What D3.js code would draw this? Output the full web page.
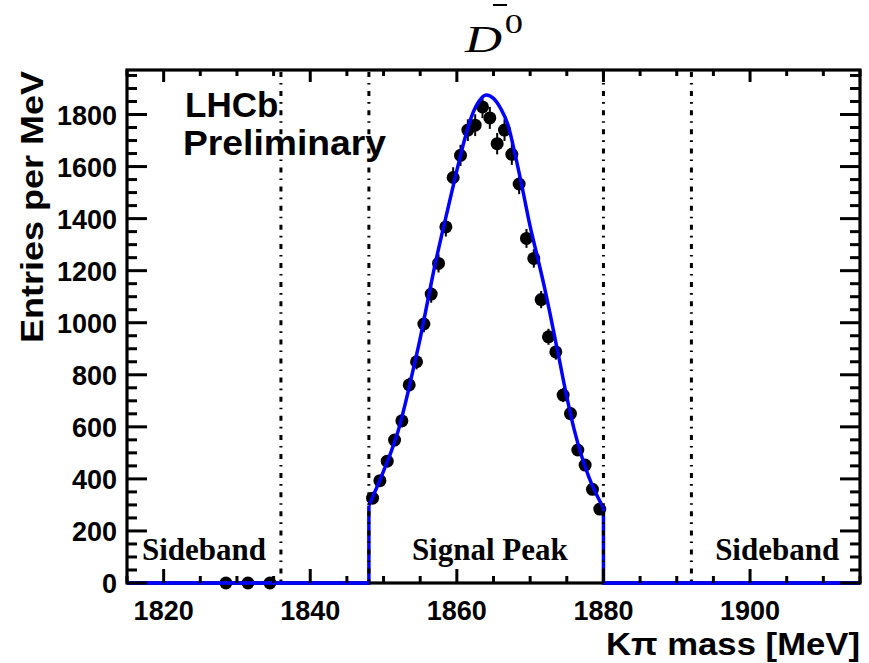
<!DOCTYPE html>
<html>
<head>
<meta charset="utf-8">
<script src="https://cdn.jsdelivr.net/npm/d3@7"></script>
<style>
  html, body { margin: 0; padding: 0; background: #fff; }
  svg { display: block; }
</style>
</head>
<body>
<svg id="chart" width="869" height="663"></svg>
<script>
// ---- Data ----
const binCenters = [1828.5, 1831.5, 1834.5,
  1848.5, 1849.5, 1850.5, 1851.5, 1852.5, 1853.5, 1854.5, 1855.5, 1856.5, 1857.5,
  1858.5, 1859.5, 1860.5, 1861.5, 1862.5, 1863.5, 1864.5, 1865.5, 1866.5, 1867.5,
  1868.5, 1869.5, 1870.5, 1871.5, 1872.5, 1873.5, 1874.5, 1875.5, 1876.5, 1877.5,
  1878.5, 1879.5];
const entries = [0, 0, 0,
  326, 393, 468, 549, 623, 761, 850, 995, 1110, 1228,
  1368, 1558, 1643, 1740, 1759, 1829, 1787, 1688, 1740, 1647,
  1533, 1324, 1247, 1089, 946, 888, 722, 651, 511, 453,
  360, 284];

const fitMass = [1848, 1849, 1850, 1851, 1852, 1853, 1854, 1855, 1856, 1857, 1858,
  1859, 1860, 1861, 1862, 1863, 1864, 1865, 1866, 1867, 1868, 1869, 1870, 1871,
  1872, 1873, 1874, 1875, 1876, 1877, 1878, 1879, 1880];
const fitValue = [297, 362, 430, 502, 585, 693, 815, 940, 1080, 1220, 1345,
  1465, 1585, 1698, 1792, 1850, 1875, 1862, 1822, 1758, 1640, 1508, 1370, 1252,
  1130, 995, 855, 715, 590, 490, 408, 343, 289];

const regionLines = [1836, 1848, 1880, 1892];
const regionLabels = ["Sideband", "Signal Peak", "Sideband"];
const regionLabelCenters = [1825.5, 1864.5, 1903.7];

const xTicks = [1820, 1840, 1860, 1880, 1900];
const yTicks = [0, 200, 400, 600, 800, 1000, 1200, 1400, 1600, 1800];
const xDomain = [1815, 1915];
const yDomain = [0, 1971];

const xTitle = "Kπ mass [MeV]";
const yTitle = "Entries per MeV";
const lhcbText = ["LHCb", "Preliminary"];

// ---- Layout ----
const L = 127, R = 860, T = 70, B = 583;
const svg = d3.select("#chart");
const x = d3.scaleLinear().domain(xDomain).range([L, R]);
const y = d3.scaleLinear().domain(yDomain).range([B, T]);

const sans = "'Liberation Sans', Arial, Helvetica, sans-serif";
const serif = "'Liberation Serif', 'Times New Roman', serif";

// data points with error bars
const pts = binCenters.map((m, i) => ({ m, v: entries[i] }));
const gPts = svg.append("g");
gPts.selectAll("line.err").data(pts.filter(d => d.v > 0)).join("line")
  .attr("x1", d => x(d.m)).attr("x2", d => x(d.m))
  .attr("y1", d => y(d.v + Math.sqrt(d.v))).attr("y2", d => y(d.v - Math.sqrt(d.v)))
  .attr("stroke", "#000").attr("stroke-width", 2);
gPts.selectAll("circle").data(pts).join("circle")
  .attr("cx", d => x(d.m)).attr("cy", d => y(d.v)).attr("r", 6.5)
  .attr("fill", "#000");

// fit curve
const fitPts = fitMass.map((m, i) => [m, fitValue[i]]);
const line = d3.line().x(d => x(d[0])).y(d => y(d[1])).curve(d3.curveMonotoneX);
const lineLin = d3.line().x(d => x(d[0])).y(d => y(d[1]));
const first = fitPts[0], last = fitPts[fitPts.length - 1];
svg.append("path")
  .attr("d", lineLin([[xDomain[0], 0], [first[0], 0], first]))
  .attr("fill", "none").attr("stroke", "#0000ff").attr("stroke-width", 3.5);
svg.append("path")
  .attr("d", line(fitPts))
  .attr("fill", "none").attr("stroke", "#0000ff").attr("stroke-width", 3.5);
svg.append("path")
  .attr("d", lineLin([last, [last[0], 0], [xDomain[1], 0]]))
  .attr("fill", "none").attr("stroke", "#0000ff").attr("stroke-width", 3.5);

// region lines
svg.append("g").selectAll("line").data(regionLines).join("line")
  .attr("x1", d => x(d)).attr("x2", d => x(d))
  .attr("y1", T + 2).attr("y2", B)
  .attr("stroke", "#000").attr("stroke-width", 3)
  .attr("stroke-dasharray", "5,6,1.6,6.5");

// region labels
svg.append("g").selectAll("text").data(regionLabels).join("text")
  .attr("x", (d, i) => x(regionLabelCenters[i])).attr("y", 560)
  .attr("text-anchor", "middle")
  .attr("font-family", serif).attr("font-weight", "bold").attr("font-size", 31)
  .text(d => d);

// frame
const frameW = 3.2;
svg.append("rect").attr("x", L).attr("y", T).attr("width", R - L).attr("height", B - T)
  .attr("fill", "none").attr("stroke", "#000").attr("stroke-width", frameW);
// redraw bottom blue line over frame
svg.append("path")
  .attr("d", lineLin([[xDomain[0], 0], [first[0], 0]]))
  .attr("fill", "none").attr("stroke", "#0000ff").attr("stroke-width", 3.5);
svg.append("path")
  .attr("d", lineLin([[last[0], 0], [xDomain[1], 0]]))
  .attr("fill", "none").attr("stroke", "#0000ff").attr("stroke-width", 3.5);

// ticks
const xMinor = d3.range(xDomain[0], xDomain[1] + 0.01, 5);
const yMinor = d3.range(0, yDomain[1], 50);
const gT = svg.append("g").attr("stroke", "#000").attr("stroke-width", 3);
xMinor.forEach(v => {
  const major = (v % 20 === 0);
  const len = major ? 14 : 7;
  gT.append("line").attr("x1", x(v)).attr("x2", x(v)).attr("y1", B).attr("y2", B - len);
  gT.append("line").attr("x1", x(v)).attr("x2", x(v)).attr("y1", T).attr("y2", T + (major ? 12 : 6));
});
yMinor.forEach(v => {
  const major = (v % 200 === 0);
  const len = major ? 20 : 10;
  gT.append("line").attr("x1", L).attr("x2", L + len).attr("y1", y(v)).attr("y2", y(v));
  gT.append("line").attr("x1", R).attr("x2", R - len).attr("y1", y(v)).attr("y2", y(v));
});

// tick labels
svg.append("g").selectAll("text").data(xTicks).join("text")
  .attr("x", d => x(d)).attr("y", 620).attr("text-anchor", "middle")
  .attr("font-family", sans).attr("font-weight", "bold").attr("font-size", 27)
  .text(d => d);
svg.append("g").selectAll("text").data(yTicks).join("text")
  .attr("x", 117).attr("y", d => y(d) + 10).attr("text-anchor", "end")
  .attr("font-family", sans).attr("font-weight", "bold").attr("font-size", 27)
  .text(d => d);

// axis titles
svg.append("text").attr("x", 860).attr("y", 655).attr("text-anchor", "end")
  .attr("font-family", sans).attr("font-weight", "bold").attr("font-size", 31)
  .attr("textLength", 254).attr("lengthAdjust", "spacingAndGlyphs")
  .text(xTitle);
svg.append("text").attr("transform", "translate(43,71) rotate(-90)")
  .attr("text-anchor", "end")
  .attr("font-family", sans).attr("font-weight", "bold").attr("font-size", 31)
  .attr("textLength", 272).attr("lengthAdjust", "spacingAndGlyphs")
  .text(yTitle);

// LHCb label
svg.append("text").attr("x", 185).attr("y", 117)
  .attr("font-family", sans).attr("font-weight", "bold").attr("font-size", 35)
  .text(lhcbText[0]);
svg.append("text").attr("x", 183).attr("y", 155)
  .attr("font-family", sans).attr("font-weight", "bold").attr("font-size", 35)
  .attr("textLength", 203).attr("lengthAdjust", "spacingAndGlyphs")
  .text(lhcbText[1]);

// title  D-bar ^0  (horizontally stretched like the original TLatex)
const tg = svg.append("g").attr("transform", "translate(465,52) scale(1.35,1)");
const title = tg.append("text").attr("x", 0).attr("y", 0)
  .attr("font-family", serif).attr("font-size", 38);
title.append("tspan").attr("font-style", "italic").text("D");
title.append("tspan").attr("font-size", 27).attr("dy", -19).attr("dx", 2).text("0");
svg.append("line").attr("x1", 493).attr("x2", 507).attr("y1", 5).attr("y2", 5)
  .attr("stroke", "#000").attr("stroke-width", 2);
</script>
</body>
</html>
